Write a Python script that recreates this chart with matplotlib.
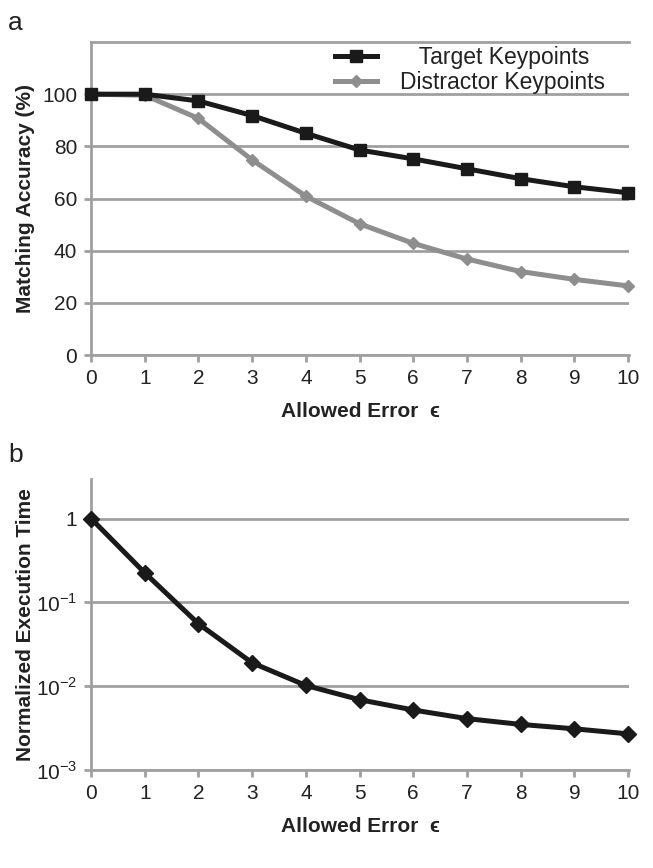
import matplotlib
matplotlib.use("Agg")
import matplotlib.pyplot as plt

plt.rcParams['font.family'] = ['Liberation Sans', 'DejaVu Sans']

# Data
errors = [0, 1, 2, 3, 4, 5, 6, 7, 8, 9, 10]
target_acc = [100, 100, 97.4, 91.8, 85.0, 78.6, 75.2, 71.4, 67.6, 64.5, 62.2]
distractor_acc = [100, 99.6, 90.7, 74.8, 60.9, 50.3, 42.8, 36.8, 32.0, 29.0, 26.5]
exec_time = [1.0, 0.225, 0.0556, 0.019, 0.0102, 0.0069, 0.0052, 0.0041, 0.0035, 0.0031, 0.0027]
acc_ticks = [0, 20, 40, 60, 80, 100]
time_ticks = [1e-3, 1e-2, 1e-1, 1]
time_labels = ['10$^{\\mathregular{-3}}$', '10$^{\\mathregular{-2}}$', '10$^{\\mathregular{-1}}$', '1']

grid_c = '#a0a0a0'
text_c = '#222222'
dark = '#1a1a1a'
light = '#8e8e8e'
label_font = dict(fontsize=15, fontweight='bold', color=text_c)

fig = plt.figure(figsize=(6.53, 8.68), dpi=100)
ax1 = fig.add_axes([0.1394, 0.591, 0.824, 0.3606])
ax2 = fig.add_axes([0.1394, 0.1129, 0.824, 0.3351])


def style(ax):
    ax.set_xlim(0, 10.02)
    ax.set_xticks(errors)
    ax.grid(axis='y', color=grid_c, linewidth=2)
    ax.set_axisbelow(True)
    for s in ['left', 'bottom', 'top']:
        ax.spines[s].set_color(grid_c)
        ax.spines[s].set_linewidth(2)
    ax.spines['right'].set_visible(False)
    ax.tick_params(axis='both', colors=grid_c, width=2, length=5, direction='out',
                   labelcolor=text_c, labelsize=15, pad=5)
    ax.set_xlabel('Allowed Error  \u03f5', labelpad=10, **label_font)
    ax.yaxis.set_label_coords(-0.104, 0.5)


# panel a
style(ax1)
ax1.set_ylim(0, 120)
ax1.set_yticks(acc_ticks)
ax1.plot(errors, target_acc, color=dark, linewidth=3.6, marker='s', markersize=8,
         label='   Target Keypoints', clip_on=False, zorder=4)
ax1.plot(errors, distractor_acc, color=light, linewidth=3.6, marker='D', markersize=6,
         label='Distractor Keypoints', clip_on=False, zorder=3)
ax1.set_ylabel('Matching Accuracy (%)', **label_font)
leg = ax1.legend(loc='upper right', bbox_to_anchor=(0.985, 1.04), frameon=False,
                 fontsize=16.5, handlelength=1.85, handletextpad=1.0,
                 labelspacing=0.1, borderpad=0.2)
for t in leg.get_texts():
    t.set_color(text_c)

# panel b
style(ax2)
ax2.spines['top'].set_visible(False)
ax2.set_yscale('log')
ax2.set_ylim(1e-3, 2.95)
ax2.set_yticks(time_ticks)
ax2.set_yticklabels(time_labels)
ax2.minorticks_off()
ax2.plot(errors, exec_time, color=dark, linewidth=3.6, marker='D', markersize=8,
         clip_on=False, zorder=4)
ax2.set_ylabel('Normalized Execution Time', **label_font)

fig.text(0.012, 0.965, 'a', fontsize=19, color=text_c)
fig.text(0.012, 0.468, 'b', fontsize=19, color=text_c)

fig.savefig('out.png', dpi=100)
